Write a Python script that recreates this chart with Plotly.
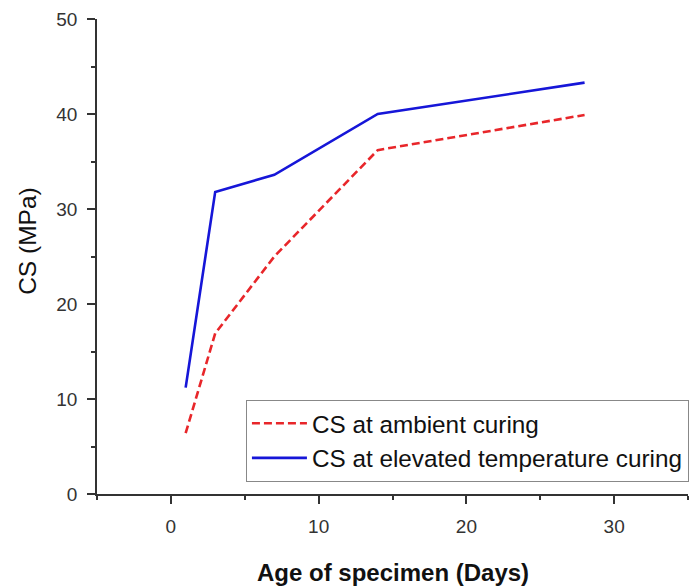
import plotly.graph_objects as go

age_days = [1, 3, 7, 14, 28]
cs_ambient = [6.4, 16.9, 25.0, 36.2, 39.9]
cs_elevated = [11.2, 31.8, 33.6, 40.0, 43.3]

x_ticks = [0, 10, 20, 30]
y_ticks = [0, 10, 20, 30, 40, 50]

FONT = "Liberation Sans, Arial, sans-serif"

fig = go.Figure()
fig.add_trace(go.Scatter(
    x=age_days, y=cs_ambient, mode="lines", name="CS at ambient curing",
    line=dict(color="#e8262a", width=2.6, dash="8px,4px"),
))
fig.add_trace(go.Scatter(
    x=age_days, y=cs_elevated, mode="lines", name="CS at elevated temperature curing",
    line=dict(color="#1616d8", width=2.6),
))

axis_common = dict(
    showgrid=False, zeroline=False, showline=True, linecolor="#333333", linewidth=1.6,
    ticks="outside", ticklen=8, tickwidth=1.6, tickcolor="#333333",
    tickfont=dict(family=FONT, size=19, color="#333333"),
    mirror=False, automargin=False,
)

fig.update_xaxes(
    range=[-5, 35], tickvals=x_ticks, ticklabelstandoff=6,
    minor=dict(dtick=5, tick0=0, ticks="outside", ticklen=4, tickwidth=1.6, tickcolor="#333333"),
    **axis_common,
)
fig.update_yaxes(
    range=[0, 50], tickvals=y_ticks, ticklabelstandoff=6,
    minor=dict(dtick=5, tick0=0, ticks="outside", ticklen=4, tickwidth=1.6, tickcolor="#333333"),
    **axis_common,
)

fig.update_layout(
    width=689, height=588,
    margin=dict(l=97, r=1, t=19, b=94, autoexpand=False),
    plot_bgcolor="white", paper_bgcolor="white",
    font=dict(family=FONT, color="#111111"),
    showlegend=True,
    legend=dict(
        x=0.252, y=0.198, xanchor="left", yanchor="top",
        bgcolor="white", bordercolor="#888888", borderwidth=1,
        font=dict(family=FONT, size=24.3, color="#111111"),
        itemwidth=55, tracegroupgap=0,
    ),
    annotations=[
        dict(text="<b>Age of specimen (Days)</b>", xref="paper", yref="paper",
             x=0.5, y=0, yshift=-78, xanchor="center", yanchor="middle",
             showarrow=False, font=dict(family=FONT, size=24, color="#111111")),
        dict(text="CS (MPa)", xref="paper", yref="paper", textangle=-90,
             x=0, xshift=-69, y=0.533, xanchor="center", yanchor="middle",
             showarrow=False, font=dict(family=FONT, size=24.5, color="#111111")),
    ],
)

fig.write_html(
    "out.html",
    config={"displayModeBar": False},
    post_script="document.body.style.margin='0px';document.body.style.overflow='hidden';",
)
